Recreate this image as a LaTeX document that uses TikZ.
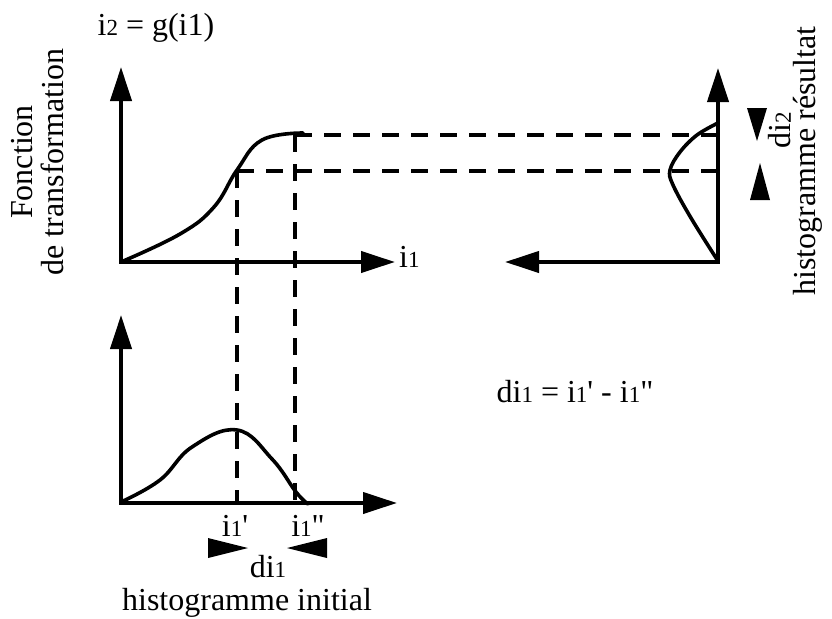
\documentclass[tikz,border=0pt]{standalone}
\usepackage{fontspec}
\newfontfamily\pf{Liberation Serif}
\usetikzlibrary{arrows.meta}
\newcommand\sd[1]{{\fontsize{23}{23}\selectfont #1}}
\begin{document}
\begin{tikzpicture}[x=1pt,y=-1pt,
 axis/.style={line width=4pt, {Triangle[length=34pt,width=21pt]}-{Triangle[length=34pt,width=21pt]}},
 curve/.style={line width=3.6pt, line join=round, line cap=round},
 guide/.style={line width=3.6pt, dash pattern=on 17pt off 12pt},
 lbl/.style={font=\pf\fontsize{32}{31}\selectfont, inner sep=0pt},
 tri/.style={fill=black, draw=none}]
\useasboundingbox (0,0) rectangle (832,618);

% coordinates
\coordinate (O1) at (121,262);
\coordinate (Y1) at (121,67);
\coordinate (X1) at (395,262);
\coordinate (O2) at (718,262);
\coordinate (Y2) at (718,68);
\coordinate (X2) at (505,262);
\coordinate (O3) at (121,503);
\coordinate (Y3) at (121,315);
\coordinate (X3) at (397,503);

\coordinate (pA) at (237,171);
\coordinate (pB) at (295,135);
\coordinate (qA) at (237,503);
\coordinate (qB) at (295,503);
\coordinate (rA) at (716,171);
\coordinate (rB) at (718,135);

% dashed guides
\draw[guide] (pA) -- (qA);
\draw[guide] (pB) -- (qB);
\draw[guide] (pA) -- (rA);
\draw[guide] (pB) -- (rB);

% axes
\draw[axis] (Y1) -- (O1) -- (X1);
\draw[axis] (Y2) -- (O2) -- (X2);
\draw[axis] (Y3) -- (O3) -- (X3);

% curves
\draw[curve] plot[smooth, tension=0.7] coordinates {(121,262) (180,234) (214,207) (237,170) (262,140) (303,133)};
\draw[curve] plot[smooth, tension=0.6] coordinates {(718,261) (691,218) (673,185) (670,170) (680,152) (697,135) (718,123)};
\draw[curve] plot[smooth, tension=0.7] coordinates {(121,502) (160,480) (192,447) (237,430) (272,459) (296,492) (308,504)};

% di triangles
\coordinate (t1a) at (208,538); \coordinate (t1b) at (248,548); \coordinate (t1c) at (208,558);
\coordinate (t2a) at (327,538); \coordinate (t2b) at (287,548); \coordinate (t2c) at (327,558);
\coordinate (t3a) at (747,108); \coordinate (t3b) at (757,141); \coordinate (t3c) at (767,108);
\coordinate (t4a) at (750,200); \coordinate (t4b) at (760,163); \coordinate (t4c) at (770,200);
\fill[tri] (t1a) -- (t1b) -- (t1c) -- cycle;
\fill[tri] (t2a) -- (t2b) -- (t2c) -- cycle;
\fill[tri] (t3a) -- (t3b) -- (t3c) -- cycle;
\fill[tri] (t4a) -- (t4b) -- (t4c) -- cycle;

% labels
\node[lbl] (title) at (156,28) {i\sd{2} = g(i1)};
\node[lbl, anchor=base west] (xlab) at (399,267) {i\sd{1}};
\node[lbl, rotate=90, align=center] (fonc) at (38,162) {Fonction\\de transformation};
\node[lbl, rotate=90] (hres) at (808,161) {histogramme résultat};
\node[lbl, rotate=90] (dtwo) at (780,130) {di\sd{2}};
\node[lbl] (eq) at (575,392) {di\sd{1} = i\sd{1}' - i\sd{1}"};
\node[lbl] (ia) at (235,526) {i\sd{1}'};
\node[lbl] (ib) at (308,526) {i\sd{1}"};
\node[lbl] (done) at (268,567) {di\sd{1}};
\node[lbl] (hini) at (247,603) {histogramme initial};
\end{tikzpicture}
\end{document}
